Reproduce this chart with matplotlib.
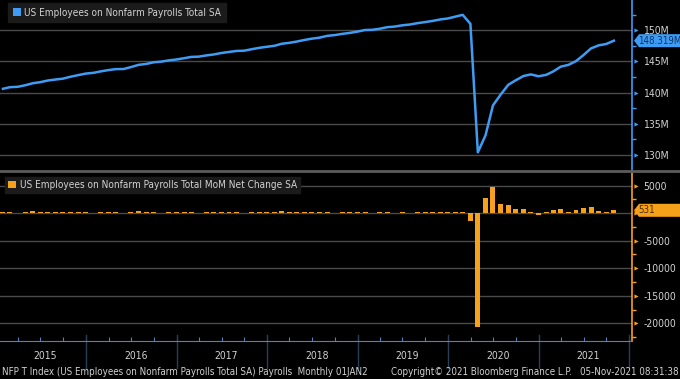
import numpy as np
import pandas as pd
import matplotlib
matplotlib.use('Agg')
import matplotlib.pyplot as plt
import matplotlib.dates as mdates
import matplotlib.transforms as mtransforms
from matplotlib.patches import Patch, Polygon
from matplotlib.lines import Line2D

plt.rcParams['font.family'] = ['DejaVu Sans']
plt.rcParams['font.stretch'] = 'condensed'

# US nonfarm payrolls, monthly level (thousands), Jan 2015 .. Oct 2021
payrolls = [
    140600, 140860, 140920, 141160, 141490, 141660, 141930, 142090, 142230, 142540, 142790, 143040,
    143160, 143390, 143600, 143760, 143770, 144080, 144440, 144590, 144850, 144960, 145160, 145300,
    145510, 145710, 145760, 145950, 146110, 146340, 146510, 146670, 146710, 146950, 147170, 147340,
    147500, 147820, 147970, 148170, 148430, 148640, 148800, 149090, 149210, 149410, 149560, 149770,
    150030, 150060, 150230, 150480, 150580, 150780, 150910, 151130, 151300, 151490, 151720, 151880,
    152180, 152460, 151020, 130420, 133140, 137940, 139670, 141250, 141970, 142650, 142910, 142610,
    142840, 143380, 144160, 144430, 145040, 146000, 147090, 147570, 147788, 148319,
]

# month over month net change (thousands)
mom_change = [
    200, 260, 60, 240, 330, 170, 270, 160, 140, 310, 250, 250,
    120, 230, 210, 160, 10, 310, 360, 150, 260, 110, 200, 140,
    210, 200, 50, 190, 160, 230, 170, 160, 40, 240, 220, 170,
    160, 320, 150, 200, 260, 210, 160, 290, 120, 200, 150, 210,
    260, 30, 170, 250, 100, 200, 130, 220, 170, 190, 230, 160,
    300, 280, -1440, -20600, 2720, 4800, 1730, 1580, 720, 680, 260, -300,
    230, 540, 780, 270, 610, 960, 1090, 480, 220, 531,
]

years = [2015, 2016, 2017, 2018, 2019, 2020, 2021]
top_ticks = [130, 135, 140, 145, 150]
bottom_ticks = [-20000, -15000, -10000, -5000, 0, 5000]

BLUE = '#3f9cf5'
ORANGE = '#f7a11a'
GRID = '#4a4a4a'
TXT = '#d2d2d2'
BOX = '#1b1b1b'
FS = 7.5

dates = pd.date_range('2015-01-31', periods=len(payrolls), freq='ME')
level_m = np.array(payrolls) / 1000

fig = plt.figure(figsize=(6.8, 3.79), dpi=100, facecolor='black')
ax1 = fig.add_axes([0, 1 - 170 / 379, 632 / 680, 170 / 379], facecolor='black')
ax2 = fig.add_axes([0, 1 - 341 / 379, 632 / 680, 169 / 379], facecolor='black', sharex=ax1)

# top panel
ax1.plot(dates, level_m, color=BLUE, lw=1.8, zorder=3)
ax1.set_ylim(127.58, 154.84)
ax1.set_yticks(top_ticks)
ax1.set_yticks([132.5, 137.5, 142.5, 147.5, 152.5], minor=True)
ax1.set_yticklabels([f'{t}M' for t in top_ticks])

# bottom panel
ax2.bar(dates, mom_change, width=20, color=ORANGE, zorder=3)
ax2.set_ylim(-23218, 7491)
ax2.set_yticks(bottom_ticks)
ax2.set_yticks([-22500, -17500, -12500, -7500, -2500, 2500], minor=True)
ax2.set_yticklabels([str(t) if t != 0 else '' for t in bottom_ticks])

ax1.set_xlim(pd.Timestamp('2015-01-19'), pd.Timestamp('2022-01-12'))

for ax, col in [(ax1, BLUE), (ax2, ORANGE)]:
    for s in ['top', 'left', 'bottom']:
        ax.spines[s].set_visible(False)
    ax.spines['right'].set_color(col)
    ax.spines['right'].set_linewidth(1.2)
    ax.yaxis.tick_right()
    ax.yaxis.grid(True, which='major', color=GRID, lw=1)
    ax.set_axisbelow(True)
    ax.tick_params(axis='y', which='major', length=0, pad=8, labelcolor=TXT, labelsize=FS)
    ax.tick_params(axis='y', which='minor', length=3, width=1, color=col)
    trans = mtransforms.blended_transform_factory(ax.transAxes, ax.transData)
    ticks = top_ticks if ax is ax1 else bottom_ticks
    ax.scatter([1.006] * len(ticks), ticks, marker='>', s=9, color=col,
               transform=trans, clip_on=False, zorder=5, linewidths=0)

ax1.tick_params(axis='x', which='both', length=0, labelbottom=False)

# x axis of bottom panel
ax2.spines['bottom'].set_visible(True)
ax2.spines['bottom'].set_color('#5a7fb5')
ax2.xaxis.set_major_locator(mdates.MonthLocator(bymonth=[1, 4, 7, 10]))
ax2.tick_params(axis='x', which='major', direction='in', length=3, color='#5a7fb5',
                labelbottom=False)
ax2.tick_params(axis='x', which='minor', length=0)

xtr = mtransforms.blended_transform_factory(ax2.transData, ax2.transAxes)
for y in years + [2022]:
    d = mdates.date2num(pd.Timestamp(f'{y}-01-01'))
    ax2.plot([d, d], [0.035, -0.16], color='#2c3d58', lw=1, transform=xtr, clip_on=False)
for y in years:
    mid = mdates.date2num(pd.Timestamp(f'{y}-07-20'))
    ax2.text(mid, -0.09, str(y), color=TXT, fontsize=FS, ha='center', va='center',
             transform=xtr)

# legends
ax1.legend(handles=[Patch(facecolor=BLUE, edgecolor='none',
                          label='US Employees on Nonfarm Payrolls Total SA')],
           loc='upper left', bbox_to_anchor=(8 / 632, 1 - 3 / 170), bbox_transform=ax1.transAxes,
           frameon=True, fancybox=False, facecolor=BOX, edgecolor=BOX, framealpha=1,
           handlelength=0.8, handleheight=0.8, handletextpad=0.4, borderpad=0.45,
           borderaxespad=0, labelcolor=TXT, fontsize=7.2)
ax2.legend(handles=[Patch(facecolor=ORANGE, edgecolor='none',
                          label='US Employees on Nonfarm Payrolls Total MoM Net Change SA')],
           loc='upper left', bbox_to_anchor=(5 / 632, 1 - 5 / 169), bbox_transform=ax2.transAxes,
           frameon=True, fancybox=False, facecolor=BOX, edgecolor=BOX, framealpha=1,
           handlelength=0.8, handleheight=0.8, handletextpad=0.4, borderpad=0.3,
           borderaxespad=0, labelcolor=TXT, fontsize=7.2)


# last value tags (pentagon drawn in pixel space)
def value_tag(ax, value, label, fc, tc):
    yc = ax.transData.transform((0, value))[1]
    xl = ax.transAxes.transform((1, 0))[0] + 2
    pts = [(xl, yc), (xl + 5, yc - 6.5), (680, yc - 6.5), (680, yc + 6.5), (xl + 5, yc + 6.5)]
    fig.add_artist(Polygon(pts, closed=True, fc=fc, ec='none',
                           transform=mtransforms.IdentityTransform(), zorder=6))
    fig.text((xl + 4) / 680, yc / 379, label, color=tc, fontsize=7,
             va='center', ha='left', zorder=7)


value_tag(ax1, level_m[-1], f'{level_m[-1]:.3f}M', BLUE, '#0b3366')
value_tag(ax2, mom_change[-1], str(mom_change[-1]), ORANGE, '#4d2c00')

# panel divider
fig.add_artist(Line2D([0, 1], [1 - 171 / 379] * 2, color='#5c5c5c', lw=2,
                      transform=fig.transFigure))

# footer
fig.text(0.003, 0.018, 'NFP T Index (US Employees on Nonfarm Payrolls Total SA) Payrolls  Monthly 01JAN2',
         color=TXT, fontsize=FS - 0.5, va='center', ha='left')
fig.text(0.575, 0.018, 'Copyright\u00a9 2021 Bloomberg Finance L.P.', color=TXT, fontsize=FS - 0.5,
         va='center', ha='left')
fig.text(0.998, 0.018, '05-Nov-2021 08:31:38', color=TXT, fontsize=FS - 0.5, va='center', ha='right')

fig.savefig('out.png', dpi=100, facecolor='black')
